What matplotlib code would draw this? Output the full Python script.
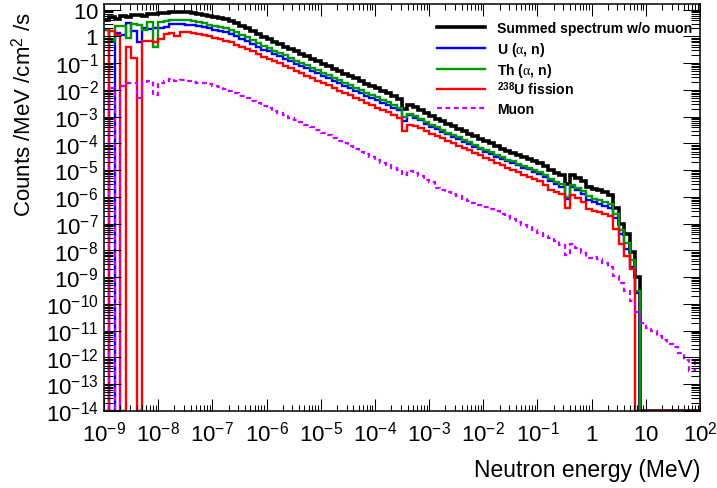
import numpy as np
import matplotlib
matplotlib.use('Agg')
import matplotlib.pyplot as plt
from matplotlib.lines import Line2D
from matplotlib.ticker import FixedLocator, FixedFormatter, LogLocator, NullFormatter

plt.rcParams['font.family'] = ['Liberation Sans', 'DejaVu Sans']
plt.rcParams['mathtext.fontset'] = 'custom'
plt.rcParams['mathtext.rm'] = 'Liberation Sans'
plt.rcParams['mathtext.it'] = 'Liberation Serif'
plt.rcParams['mathtext.bf'] = 'Liberation Sans:bold'

# ---------------- data (log10 of Counts/MeV/cm^2/s per bin; None = empty bin) ----------
# bins: 0.1 decade wide, from 1e-9 MeV to 1e2 MeV (110 bins)
log10_energy_edges = np.linspace(-9.0, 2.0, 111)

summed_log10 = [
    0.62, 0.72, 0.66, 0.76, 0.74, 0.79, 0.80, 0.78, 0.83, 0.85,
    0.87, 0.89, 0.92, 0.91, 0.92, 0.90, 0.88, 0.85, 0.81, 0.76,
    0.73, 0.69, 0.64, 0.57, 0.49, 0.40, 0.31, 0.20, 0.09, -0.01,
    -0.10, -0.19, -0.28, -0.38, -0.47, -0.56, -0.65, -0.74, -0.84, -0.93,
    -1.02, -1.11, -1.20, -1.30, -1.39, -1.48, -1.57, -1.66, -1.76, -1.85,
    -1.94, -2.03, -2.12, -2.22, -2.33, -2.72, -2.55, -2.64, -2.74, -2.86,
    -2.98, -3.07, -3.16, -3.26, -3.35, -3.44, -3.54, -3.63, -3.73, -3.82,
    -3.91, -4.00, -4.10, -4.19, -4.27, -4.34, -4.42, -4.50, -4.57, -4.65,
    -4.73, -4.85, -5.00, -5.10, -5.17, -5.52, -5.18, -5.30, -5.42, -5.64,
    -5.70, -5.74, -5.82, -5.92, -6.40, -7.00, -7.40, -8.05, -9.00, None,
    None, None, None, None, None, None, None, None, None, None,
]

u_alpha_n_log10 = [
    0.25, None, 0.12, 0.05, 0.50, 0.20, -0.20, 0.30, 0.28, 0.32,
    0.30, 0.35, 0.46, 0.45, 0.47, 0.44, 0.42, 0.38, 0.35, 0.30,
    0.26, 0.22, 0.16, 0.09, 0.01, -0.08, -0.18, -0.28, -0.39, -0.49,
    -0.55, -0.64, -0.73, -0.83, -0.92, -1.01, -1.10, -1.19, -1.29, -1.38,
    -1.47, -1.56, -1.65, -1.75, -1.84, -1.93, -2.02, -2.11, -2.21, -2.30,
    -2.39, -2.48, -2.57, -2.67, -2.76, -3.15, -2.95, -3.04, -3.14, -3.26,
    -3.38, -3.47, -3.56, -3.66, -3.75, -3.84, -3.94, -4.03, -4.13, -4.22,
    -4.31, -4.40, -4.50, -4.59, -4.67, -4.74, -4.82, -4.90, -4.97, -5.05,
    -5.13, -5.27, -5.42, -5.53, -5.61, -6.08, -5.63, -5.75, -5.87, -6.10,
    -6.20, -6.28, -6.34, -6.42, -6.80, -7.38, -7.95, -8.60, -9.60, None,
    None, None, None, None, None, None, None, None, None, None,
]

th_alpha_n_log10 = [
    0.24, -0.15, 0.38, 0.40, -0.05, 0.45, 0.42, 0.25, 0.55, -0.40,
    0.55, 0.58, 0.60, 0.62, 0.60, 0.63, 0.58, 0.54, 0.50, 0.44,
    0.40, 0.36, 0.31, 0.24, 0.16, 0.07, -0.03, -0.14, -0.25, -0.35,
    -0.44, -0.53, -0.62, -0.71, -0.81, -0.90, -0.99, -1.08, -1.18, -1.27,
    -1.36, -1.45, -1.54, -1.63, -1.73, -1.82, -1.91, -2.00, -2.10, -2.19,
    -2.28, -2.37, -2.46, -2.56, -2.66, -3.02, -2.88, -2.97, -3.07, -3.18,
    -3.30, -3.40, -3.49, -3.59, -3.68, -3.77, -3.87, -3.96, -4.06, -4.15,
    -4.24, -4.33, -4.43, -4.52, -4.60, -4.67, -4.75, -4.83, -4.90, -4.98,
    -5.06, -5.18, -5.33, -5.43, -5.52, -6.00, -5.56, -5.66, -5.77, -5.98,
    -6.06, -6.10, -6.18, -6.26, -6.62, -7.22, -7.72, -8.35, -9.50, None,
    None, None, None, None, None, None, None, None, None, None,
]

u238_fission_log10 = [
    None, 0.20, 0.05, None, -0.40, -0.80, None, -0.17, -0.15, -0.20,
    -0.10, 0.08, 0.12, 0.02, 0.15, 0.16, 0.13, 0.10, 0.06, 0.01,
    -0.04, -0.09, -0.15, -0.22, -0.30, -0.38, -0.47, -0.56, -0.66, -0.75,
    -0.83, -0.91, -1.00, -1.10, -1.19, -1.28, -1.37, -1.46, -1.56, -1.65,
    -1.74, -1.83, -1.92, -2.02, -2.11, -2.20, -2.29, -2.38, -2.48, -2.57,
    -2.66, -2.75, -2.84, -2.94, -3.05, -3.54, -3.29, -3.34, -3.43, -3.54,
    -3.65, -3.73, -3.81, -3.90, -3.99, -4.08, -4.17, -4.26, -4.35, -4.44,
    -4.53, -4.62, -4.72, -4.82, -4.91, -4.99, -5.08, -5.17, -5.25, -5.34,
    -5.42, -5.55, -5.72, -5.83, -5.90, -6.40, -5.91, -6.05, -6.18, -6.45,
    -6.52, -6.55, -6.62, -6.72, -7.20, -7.75, -8.20, -8.70, None, None,
    None, None, None, None, None, None, None, None, None, None,
]

muon_log10 = [
    None, -1.92, None, -1.85, -1.72, -1.75, -2.30, -1.70, -1.68, -2.20,
    -1.75, -1.66, -1.60, -1.65, -1.62, -1.68, -1.70, -1.72, -1.74, -1.78,
    -1.84, -1.90, -1.97, -2.05, -2.13, -2.22, -2.31, -2.40, -2.50, -2.59,
    -2.68, -2.77, -2.86, -2.95, -3.04, -3.13, -3.21, -3.30, -3.39, -3.49,
    -3.59, -3.70, -3.80, -3.90, -4.00, -4.11, -4.21, -4.31, -4.41, -4.51,
    -4.62, -4.72, -4.82, -4.92, -5.00, -5.18, -5.04, -5.12, -5.22, -5.35,
    -5.45, -5.65, -5.72, -5.82, -5.90, -5.98, -6.06, -6.14, -6.22, -6.30,
    -6.38, -6.46, -6.54, -6.62, -6.72, -6.82, -6.93, -7.04, -7.14, -7.25,
    -7.35, -7.45, -7.55, -7.66, -7.78, -8.16, -7.75, -7.90, -8.10, -8.28,
    -8.25, -8.30, -8.45, -8.60, -8.95, -9.20, -9.50, -9.90, -10.30, -10.70,
    -10.90, -11.00, -11.20, -11.35, -11.50, -11.60, -11.85, -12.10, -12.50, -12.10,
]

legend_labels = ['Summed spectrum w/o muon', r'U ($\alpha$, n)', r'Th ($\alpha$, n)',
                 r'$^{\mathbf{238}}$U fission', 'Muon']

x_tick_values = [1e-9, 1e-8, 1e-7, 1e-6, 1e-5, 1e-4, 1e-3, 1e-2, 1e-1, 1e0, 1e1, 1e2]
x_tick_labels = [r'$10^{-9}$', r'$10^{-8}$', r'$10^{-7}$', r'$10^{-6}$', r'$10^{-5}$',
                 r'$10^{-4}$', r'$10^{-3}$', r'$10^{-2}$', r'$10^{-1}$', r'$1$', r'$10$',
                 r'$10^{2}$']
y_tick_values = [10.0 ** k for k in range(-14, 2)]
y_tick_labels = [r'$10^{%d}$' % k for k in range(-14, 0)] + [r'$1$', r'$10$']

YMIN, YMAX = 1e-14, 16.4

# ---------------- plotting ----------------
def to_values(lst):
    return np.array([YMIN if v is None else 10.0 ** v for v in lst])

edges = 10.0 ** log10_energy_edges

fig = plt.figure(figsize=(7.17, 4.89), dpi=100)
ax = fig.add_axes([104 / 717, 77 / 489, 596 / 717, 407 / 489])
ax.set_xscale('log')
ax.set_yscale('log')

series = [
    (summed_log10, 'black', 2.6, '-'),
    (u_alpha_n_log10, '#0000ff', 1.7, '-'),
    (th_alpha_n_log10, '#009900', 1.7, '-'),
    (u238_fission_log10, '#ff0000', 1.7, '-'),
    (muon_log10, '#cc00ff', 1.6, (0, (2.2, 1.6))),
]
for data, col, lw, ls in series:
    ax.stairs(to_values(data), edges, baseline=None, color=col, lw=lw, linestyle=ls)

ax.set_xlim(1e-9, 1e2)
ax.set_ylim(YMIN, YMAX)

ax.xaxis.set_major_locator(FixedLocator(x_tick_values))
ax.xaxis.set_major_formatter(FixedFormatter(x_tick_labels))
ax.xaxis.set_minor_locator(LogLocator(base=10, subs=np.arange(2, 10), numticks=200))
ax.xaxis.set_minor_formatter(NullFormatter())
ax.yaxis.set_major_locator(FixedLocator(y_tick_values))
ax.yaxis.set_major_formatter(FixedFormatter(y_tick_labels))
ax.yaxis.set_minor_locator(LogLocator(base=10, subs=np.arange(2, 10), numticks=200))
ax.yaxis.set_minor_formatter(NullFormatter())

ax.tick_params(which='both', direction='in', top=True, right=True, width=0.75, color='black')
ax.tick_params(axis='x', which='major', length=8.6, labelsize=16, pad=21)
ax.tick_params(axis='x', which='minor', length=4.3)
ax.tick_params(axis='y', which='major', length=12.2, labelsize=16, pad=4)
ax.tick_params(axis='y', which='minor', length=6.5)
for lab in ax.get_xticklabels():
    lab.set_va('baseline')
for sp in ax.spines.values():
    sp.set_linewidth(1.1)

# axis titles (ROOT style: aligned to the axis ends)
fig.text(700 / 717, (489 - 477.5) / 489, 'Neutron energy (MeV)', ha='right', va='baseline',
         fontsize=16.5)
fig.text(23 / 717, (489 - 12) / 489, r'Counts /MeV /cm$^{2}$ /s', rotation=90,
         ha='center', va='top', fontsize=16)

# legend (no frame, upper right)
row_y = [28.3, 49.3, 70.0, 90.0, 109.3]
for (data, col, lw, ls), lab, ry in zip(series, legend_labels, row_y):
    yf = (489 - ry) / 489
    fig.add_artist(Line2D([437 / 717, 485 / 717], [yf, yf], color=col, lw=lw, linestyle=ls,
                          transform=fig.transFigure))
    fig.text(497 / 717, (489 - ry - 5.0) / 489, lab, ha='left', va='baseline',
             fontsize=10.1, fontweight='bold')

fig.savefig('out.png', dpi=100)
